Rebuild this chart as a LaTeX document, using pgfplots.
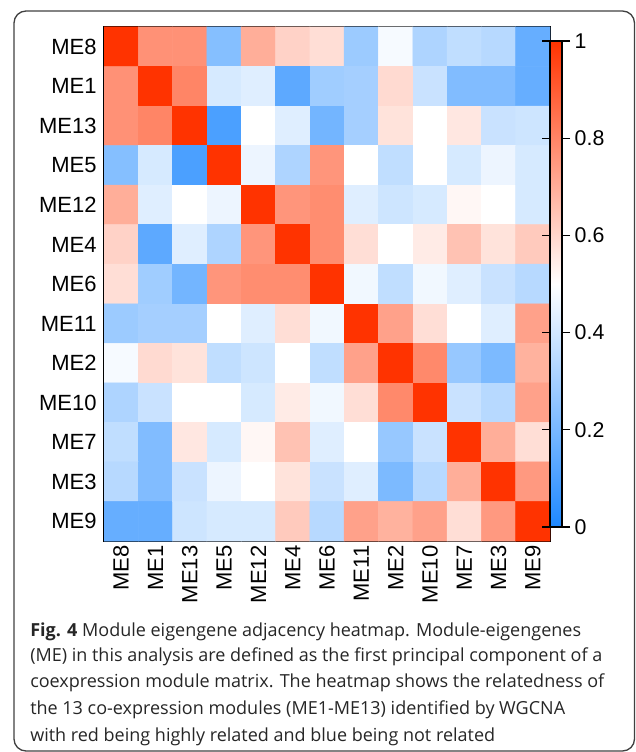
\documentclass[border=0pt]{standalone}
\usepackage{fontspec}
\setmainfont{Liberation Sans}
\newfontfamily\capfont{Open Sans}
\usepackage{pgfplots}
\pgfplotsset{compat=1.18}
\usepackage{pgfplotstable}

% module eigengene adjacency, rows/cols in plot order (ME8 ... ME9)
\pgfplotstableread{
x y c
0 0 1
1 0 .77
2 0 .77
3 0 .23
4 0 .70
5 0 .61
6 0 .58
7 0 .28
8 0 .48
9 0 .32
10 0 .36
11 0 .34
12 0 .16
0 1 .77
1 1 1
2 1 .80
3 1 .41
4 1 .43
5 1 .14
6 1 .29
7 1 .30
8 1 .59
9 1 .38
10 1 .22
11 1 .22
12 1 .16
0 2 .77
1 2 .80
2 2 1
3 2 .10
4 2 .50
5 2 .43
6 2 .19
7 2 .30
8 2 .57
9 2 .50
10 2 .56
11 2 .38
12 2 .39
0 3 .23
1 3 .41
2 3 .10
3 3 1
4 3 .46
5 3 .32
6 3 .76
7 3 .50
8 3 .36
9 3 .50
10 3 .41
11 3 .46
12 3 .41
0 4 .70
1 4 .43
2 4 .50
3 4 .46
4 4 1
5 4 .76
6 4 .78
7 4 .43
8 4 .39
9 4 .41
10 4 .52
11 4 .50
12 4 .41
0 5 .61
1 5 .14
2 5 .43
3 5 .32
4 5 .76
5 5 1
6 5 .78
7 5 .58
8 5 .50
9 5 .55
10 5 .65
11 5 .57
12 5 .63
0 6 .58
1 6 .29
2 6 .19
3 6 .76
4 6 .78
5 6 .78
6 6 1
7 6 .47
8 6 .36
9 6 .47
10 6 .43
11 6 .38
12 6 .34
0 7 .28
1 7 .30
2 7 .30
3 7 .50
4 7 .43
5 7 .58
6 7 .47
7 7 1
8 7 .73
9 7 .58
10 7 .50
11 7 .43
12 7 .73
0 8 .48
1 8 .59
2 8 .57
3 8 .36
4 8 .39
5 8 .50
6 8 .36
7 8 .73
8 8 1
9 8 .79
10 8 .27
11 8 .21
12 8 .69
0 9 .32
1 9 .38
2 9 .50
3 9 .50
4 9 .41
5 9 .55
6 9 .47
7 9 .58
8 9 .79
9 9 1
10 9 .38
11 9 .34
12 9 .73
0 10 .36
1 10 .22
2 10 .56
3 10 .41
4 10 .52
5 10 .65
6 10 .43
7 10 .50
8 10 .27
9 10 .38
10 10 1
11 10 .70
12 10 .58
0 11 .34
1 11 .22
2 11 .38
3 11 .46
4 11 .50
5 11 .57
6 11 .38
7 11 .43
8 11 .21
9 11 .34
10 11 .70
11 11 1
12 11 .75
0 12 .16
1 12 .16
2 12 .39
3 12 .41
4 12 .41
5 12 .63
6 12 .34
7 12 .73
8 12 .69
9 12 .73
10 12 .58
11 12 .75
12 12 1
}\adjtable

\begin{document}
\begin{tikzpicture}[x=0.75pt,y=0.75pt]
  \useasboundingbox (0,0) rectangle (635,752);
  \draw[black!75, line width=1pt, rounded corners=9pt] (14,1) rectangle (634.5,741);
  \begin{axis}[
      at={(78pt,158.25pt)}, anchor=south west,
      scale only axis,
      width=334.5pt, height=385.5pt,
      xmin=-0.5, xmax=12.5, ymin=-0.5, ymax=12.5,
      y dir=reverse,
      xtick={0,...,12}, ytick={0,...,12},
      xticklabels={ME8,ME1,ME13,ME5,ME12,ME4,ME6,ME11,ME2,ME10,ME7,ME3,ME9},
      yticklabels={ME8,ME1,ME13,ME5,ME12,ME4,ME6,ME11,ME2,ME10,ME7,ME3,ME9},
      x tick label style={rotate=90, anchor=east},
      yticklabel style={xshift=-2pt},
      tick label style={font=\fontsize{16.5}{19}\selectfont},
      xtick style={draw=none}, ytick style={draw=none},
      axis line style={line width=1.1pt},
      colormap={bwr}{rgb255=(30,136,255) rgb255=(255,255,255) rgb255=(255,51,0)},
      point meta min=0, point meta max=1,
      colorbar right,
      colorbar style={
        at={(1,0.5)}, anchor=west, xshift=12pt,
        width=9pt, height=364.5pt,
        ytick={0,0.2,0.4,0.6,0.8,1},
        yticklabels={0,0.2,0.4,0.6,0.8,1},
        tick align=outside, major tick length=6pt,
        ytick style={draw=black, line width=0.8pt},
        yticklabel style={font=\fontsize{16}{19}\selectfont},
        axis line style={line width=0.8pt},
      },
    ]
    \addplot[matrix plot*, mesh/cols=13, point meta=explicit] table[x=x, y=y, meta=c] {\adjtable};
  \end{axis}
  \begin{scope}[every node/.style={anchor=base west, inner sep=0pt, text=black!85,
      font=\capfont\fontsize{13.5}{16}\selectfont}]
    \node at (30,115) {\textbf{Fig. 4} Module eigengene adjacency heatmap. Module-eigengenes};
    \node at (30,90) {(ME) in this analysis are defined as the first principal component of a};
    \node at (30,64) {coexpression module matrix. The heatmap shows the relatedness of};
    \node at (30,37) {the 13 co-expression modules (ME1-ME13) identified by WGCNA};
    \node at (30,11) {with red being highly related and blue being not related};
  \end{scope}
\end{tikzpicture}
\end{document}
